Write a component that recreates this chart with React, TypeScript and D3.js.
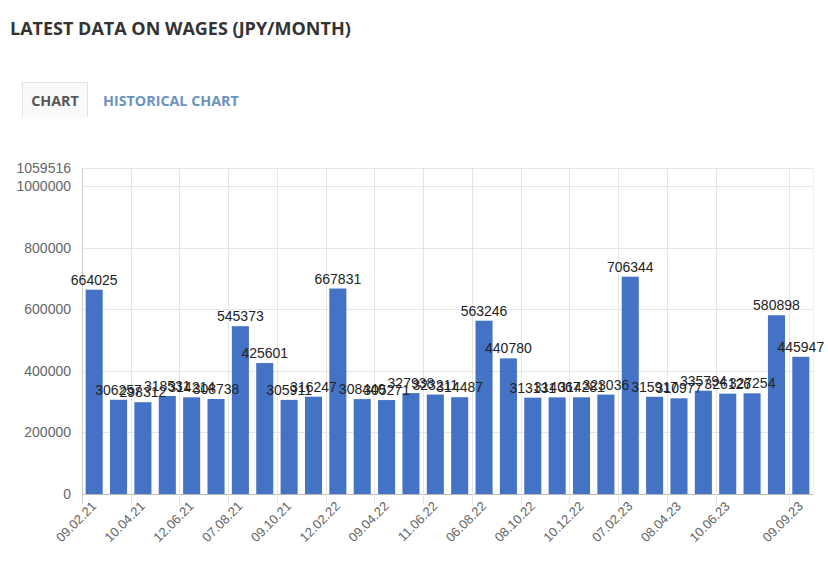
import React from "react";
import * as d3 from "d3";

const values = [
  664025, 306257, 298312, 318531, 314214, 308738, 545373, 425601, 305911, 316247,
  667831, 308440, 305271, 327938, 323211, 314487, 563246, 440780, 313131, 314067,
  314281, 323036, 706344, 315917, 310977, 335794, 326126, 327254, 580898, 445947,
];
const tickLabels = [
  "09.02.21", "10.04.21", "12.06.21", "07.08.21", "09.10.21", "12.02.22", "09.04.22",
  "11.06.22", "06.08.22", "08.10.22", "10.12.22", "07.02.23", "08.04.23", "10.06.23", "09.09.23",
];
const tickIndex = [0, 2, 4, 6, 8, 10, 12, 14, 16, 18, 20, 22, 24, 26, 29];
const yTicks = [0, 200000, 400000, 600000, 800000, 1000000];
const yMax = 1059516;

const W = 828;
const H = 571;
const left = 82;
const right = 813;
const top = 168;
const bottom = 494;

export default function App() {
  const x = d3
    .scaleBand<number>()
    .domain(values.map((_, i) => i))
    .range([left, right])
    .paddingInner(0)
    .paddingOuter(0);
  const y = d3.scaleLinear().domain([0, yMax]).range([bottom, top]);
  const bw = x.bandwidth();
  const barW = bw * 0.7;
  const font = "Arial, 'Liberation Sans', sans-serif";

  return (
    <svg
      width={W}
      height={H}
      style={{ position: "absolute", left: 0, top: 0, background: "#fff" }}
    >
      <text
        x={10}
        y={35}
        fontFamily="'Open Sans', sans-serif"
        fontWeight={700}
        fontSize={18}
        fill="#333"
      >
        LATEST DATA ON WAGES (JPY/MONTH)
      </text>
      {/* tabs */}
      <path d="M22.5,117 V82.5 H87.5 V117" fill="#fafafa" stroke="#e2e2e2" />
      <text
        x={55}
        y={106}
        textAnchor="middle"
        fontFamily="'Open Sans', sans-serif"
        fontWeight={700}
        fontSize={14.3}
        fill="#555"
      >
        CHART
      </text>
      <text
        x={103}
        y={106}
        fontFamily="'Open Sans', sans-serif"
        fontWeight={700}
        fontSize={14.3}
        fill="#6b93c0"
      >
        HISTORICAL CHART
      </text>

      {/* horizontal grid */}
      {[...yTicks, yMax].map((t) => (
        <line
          key={"h" + t}
          x1={left}
          x2={right}
          y1={Math.round(y(t)) + 0.5}
          y2={Math.round(y(t)) + 0.5}
          stroke={t === 0 ? "#bbb" : "#e6e6e6"}
        />
      ))}
      {/* vertical grid */}
      {tickIndex.map((i) => (
        <line
          key={"v" + i}
          x1={Math.round(x(i)!) + 0.5}
          x2={Math.round(x(i)!) + 0.5}
          y1={top}
          y2={bottom + 10}
          stroke={i === 0 ? "#ccc" : "#e6e6e6"}
        />
      ))}
      <line x1={right + 0.5} x2={right + 0.5} y1={top} y2={bottom} stroke="#f0f0f0" />

      {/* y tick labels */}
      {[...yTicks, yMax].map((t) => (
        <text
          key={"yl" + t}
          x={71}
          y={y(t)}
          dy="0.35em"
          textAnchor="end"
          fontFamily={font}
          fontSize={14}
          fill="#666"
        >
          {t}
        </text>
      ))}

      {/* bars */}
      {values.map((v, i) => (
        <rect
          key={"b" + i}
          x={x(i)! + (bw - barW) / 2}
          y={y(v)}
          width={barW}
          height={bottom - y(v)}
          fill="#4472c4"
        />
      ))}
      {/* value labels */}
      {values.map((v, i) => (
        <text
          key={"vl" + i}
          x={x(i)! + bw / 2}
          y={y(v) - 5}
          textAnchor="middle"
          fontFamily={font}
          fontSize={14}
          fill="#222"
        >
          {v}
        </text>
      ))}

      {/* x labels */}
      {tickIndex.map((i, k) => {
        const cx = x(i)! + bw / 2 + 3;
        const cy = 507;
        return (
          <text
            key={"xl" + i}
            x={cx}
            y={cy}
            textAnchor="end"
            transform={`rotate(-45 ${cx} ${cy})`}
            fontFamily={font}
            fontSize={13}
            fill="#666"
          >
            {tickLabels[k]}
          </text>
        );
      })}
    </svg>
  );
}
